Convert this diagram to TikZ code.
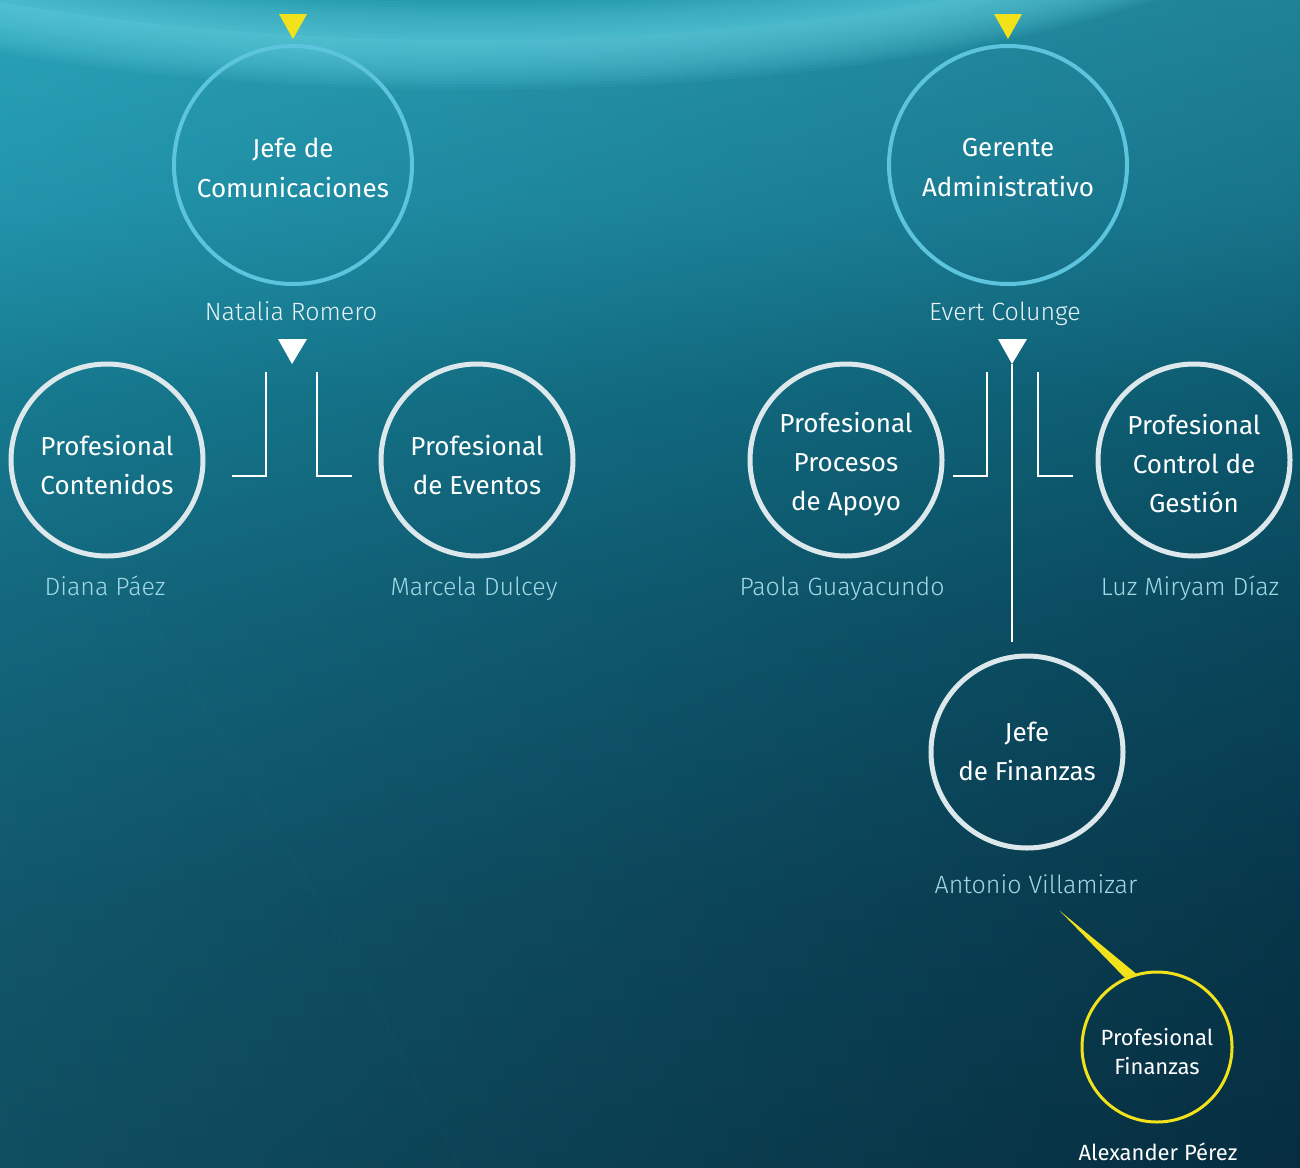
\documentclass[tikz,border=0pt]{standalone}
\usepackage{fontspec}
\setmainfont{Fira Sans}
\newfontfamily\namefont{Fira Sans Light}
\usetikzlibrary{calc}

\definecolor{bgc0}{HTML}{062E40}
\definecolor{bgc1}{HTML}{08394D}
\definecolor{bgc2}{HTML}{0B5167}
\definecolor{bgc3}{HTML}{0F6A80}
\definecolor{bgc4}{HTML}{1E8EA6}
\definecolor{bgc5}{HTML}{2AA3B8}
\definecolor{capdark}{HTML}{0A8499}
\definecolor{glowcyan}{HTML}{66D4E4}
\definecolor{ringtop}{HTML}{5CC4DC}
\definecolor{ringlow}{HTML}{DCE8EC}
\definecolor{signyellow}{HTML}{F2E21C}
\definecolor{namecyan}{HTML}{A2D8E4}
\definecolor{namewhite}{HTML}{E8F4F7}

\pgfdeclareverticalshading{seabg}{100bp}{%
  color(0bp)=(bgc0); color(25bp)=(bgc0); color(36bp)=(bgc1);
  color(49bp)=(bgc2); color(58bp)=(bgc3); color(66bp)=(bgc4);
  color(75bp)=(bgc5); color(100bp)=(bgc5)}

\tikzset{
  ringtext/.style={inner sep=0pt, align=center, text=white},
  headtext/.style={ringtext, font=\fontsize{26}{40}\selectfont},
  stafftext/.style={ringtext, font=\fontsize{26}{39}\selectfont},
  assisttext/.style={ringtext, font=\fontsize{22}{29}\selectfont},
  headring/.style={circle, draw=ringtop, line width=4pt, minimum size=238pt, inner sep=0pt},
  staffring/.style={circle, draw=ringlow, line width=5pt, minimum size=192pt, inner sep=0pt},
  assistring/.style={circle, draw=signyellow, line width=3pt, minimum size=150pt, inner sep=0pt},
  person/.style={inner sep=0pt, text depth=0pt, font=\namefont\fontsize{25}{30}\selectfont},
  bracket/.style={draw=white, line width=2pt},
}

\begin{document}
\begin{tikzpicture}[x=1pt, y=-1pt]
  % backdrop
  \useasboundingbox (0,0) rectangle (1300,1167);
  \shade[shading=seabg] (0,0) rectangle (1300,1167);
  \shade[left color=bgc5, right color=bgc0, opacity=0.28] (0,0) rectangle (1300,1167);
  \begin{scope}
    \clip (0,0) rectangle (1300,1167);
    \fill[capdark, opacity=0.75] (470,-200) ellipse (868 and 240);
    \foreach \w in {4,10,...,100}
      \draw[glowcyan, line width=\w pt, opacity=0.07] (470,-200) ellipse (868 and 240);
    % faint sweep of light low on the left
    \draw[white, line width=2pt, opacity=0.015] (140,600) .. controls (260,800) and (380,1000) .. (460,1167);
  \end{scope}

  % heads
  \node[headring, label={[headtext, yshift=-3pt]center:Jefe de\\Comunicaciones}] (comm) at (293,165) {};
  \node[headring, label={[headtext, yshift=-3pt]center:Gerente\\Administrativo}] (admin) at (1008,165) {};
  \fill[signyellow] (279,14) -- (307,14) -- (293,39) -- cycle;
  \fill[signyellow] (994,14) -- (1022,14) -- (1008,39) -- cycle;
  \node[person, text=namewhite] (n-comm) at (291,311) {Natalia Romero};
  \node[person, text=namewhite] (n-admin) at (1005,311) {Evert Colunge};

  % staff rings
  \node[staffring, label={[stafftext, yshift=-5pt]center:Profesional\\Contenidos}] (contenidos) at (107,460) {};
  \node[staffring, label={[stafftext, yshift=-5pt]center:Profesional\\de Eventos}] (eventos) at (477,460) {};
  \node[staffring, label={[stafftext, yshift=-4pt]center:Profesional\\Procesos\\de Apoyo}] (procesos) at (846,460) {};
  \node[staffring, label={[stafftext, yshift=-4pt]center:Profesional\\Control de\\Gestión}] (control) at (1194,460) {};
  \node[staffring, label={[stafftext, yshift=1pt]center:Jefe\\de Finanzas}] (finanzas) at (1027,752) {};
  \node[assistring, label={[assisttext, yshift=-5pt]center:Profesional\\Finanzas}] (proffin) at (1157,1047) {};

  \node[person, text=namecyan] (n-contenidos) at (105,586) {Diana Páez};
  \node[person, text=namecyan] (n-eventos) at (474,586) {Marcela Dulcey};
  \node[person, text=namecyan] (n-procesos) at (842,586) {Paola Guayacundo};
  \node[person, text=namecyan] (n-control) at (1190,586) {Luz Miryam Díaz};
  \node[person, text=namecyan] (n-finanzas) at (1036,884) {Antonio Villamizar};
  \node[inner sep=0pt, text depth=0pt, text=white, font=\fontsize{22}{26}\selectfont] (n-proffin) at (1158,1152) {Alexander Pérez};

  % white pointers
  \coordinate (ptr-l) at (292,364);
  \coordinate (ptr-r) at (1012,364);
  \fill[white] (278,339) -- (307,339) -- (ptr-l) -- cycle;
  \fill[white] (998,339) -- (1027,339) -- (ptr-r) -- cycle;

  % brackets, left group
  \coordinate (bl1-top) at (266,372);  \coordinate (bl1-end) at (232,476);
  \coordinate (bl2-top) at (317,372);  \coordinate (bl2-end) at (352,476);
  \draw[bracket] (bl1-top) |- (bl1-end);
  \draw[bracket] (bl2-top) |- (bl2-end);

  % brackets, right group
  \coordinate (br1-top) at (987,372);  \coordinate (br1-end) at (953,476);
  \coordinate (br2-top) at (1038,372); \coordinate (br2-end) at (1073,476);
  \draw[bracket] (br1-top) |- (br1-end);
  \draw[bracket] (br2-top) |- (br2-end);

  % stem down to finance
  \coordinate (stem-end) at (1012,642);
  \draw[bracket] (ptr-r) -- (stem-end);

  % tapered yellow link
  \coordinate (wedge-tip) at (1060,911);
  \fill[signyellow] (wedge-tip) -- (proffin.106) -- (proffin.115) -- cycle;
\end{tikzpicture}
\end{document}
